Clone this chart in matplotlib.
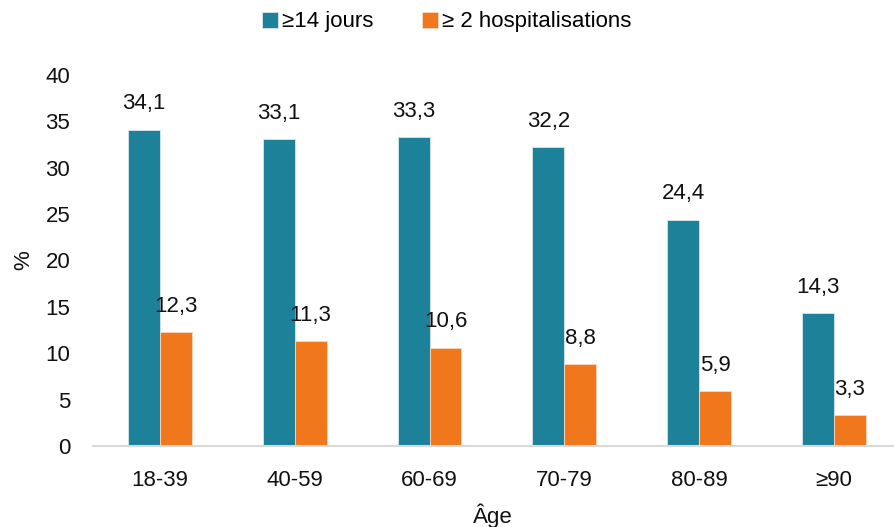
import matplotlib
matplotlib.use("Agg")
import matplotlib.pyplot as plt
import numpy as np

plt.rcParams['font.family'] = ['Liberation Sans', 'DejaVu Sans']

categories = ["18-39", "40-59", "60-69", "70-79", "80-89", "≥90"]
jours14 = [34.1, 33.1, 33.3, 32.2, 24.4, 14.3]
hosp2 = [12.3, 11.3, 10.6, 8.8, 5.9, 3.3]
series_names = ["≥14 jours", "≥ 2 hospitalisations"]
yticks = [0, 5, 10, 15, 20, 25, 30, 35, 40]

teal = "#1C8199"
orange = "#F0771B"
fs = 16

W, H = 894, 527
fig = plt.figure(figsize=(W / 100, H / 100), dpi=100)
left = 92.5 / W
ax = fig.add_axes([left, (H - 446) / H, (W - 92.5) / W, (446 - 75) / H])

x = np.arange(len(categories))
bw = 0.237
b1 = ax.bar(x - bw / 2, jours14, bw, color=teal, edgecolor="#d8e8ec", linewidth=0.6, label=series_names[0])
b2 = ax.bar(x + bw / 2, hosp2, bw, color=orange, edgecolor="#fbd9c0", linewidth=0.6, label=series_names[1])

for bars, vals in ((b1, jours14), (b2, hosp2)):
    for rect, v in zip(bars, vals):
        ax.annotate(f"{v:.1f}".replace(".", ","),
                    (rect.get_x() + rect.get_width() / 2, rect.get_height()),
                    xytext=(0, 11), textcoords="offset points",
                    ha="center", va="bottom", fontsize=fs, color="#111111")

ax.set_xlim(-0.5, -0.5 + (W - 92.5) / 134.8)
ax.set_ylim(0, 40)
ax.set_yticks(yticks)
ax.set_xticks(x)
ax.set_xticklabels(categories)
ax.tick_params(axis='y', length=0, pad=16, labelsize=fs, labelcolor="#111111")
ax.tick_params(axis='x', length=0, pad=17, labelsize=fs, labelcolor="#111111")
for s in ["top", "right", "left"]:
    ax.spines[s].set_visible(False)
ax.spines["bottom"].set_color("#D9D9D9")
ax.spines["bottom"].set_linewidth(1.5)

ax.set_ylabel("%", fontsize=fs, color="#111111", labelpad=8)
ax.set_xlabel("Âge", fontsize=fs, color="#111111", labelpad=9)

fig.legend(handles=[b1, b2], labels=series_names, loc="center", bbox_to_anchor=(0.5, 1 - 22 / H),
           ncol=2, frameon=False, fontsize=fs, handlelength=0.7, handleheight=0.7,
           handletextpad=0.2, columnspacing=2.2)

fig.savefig("out.png", dpi=100)
